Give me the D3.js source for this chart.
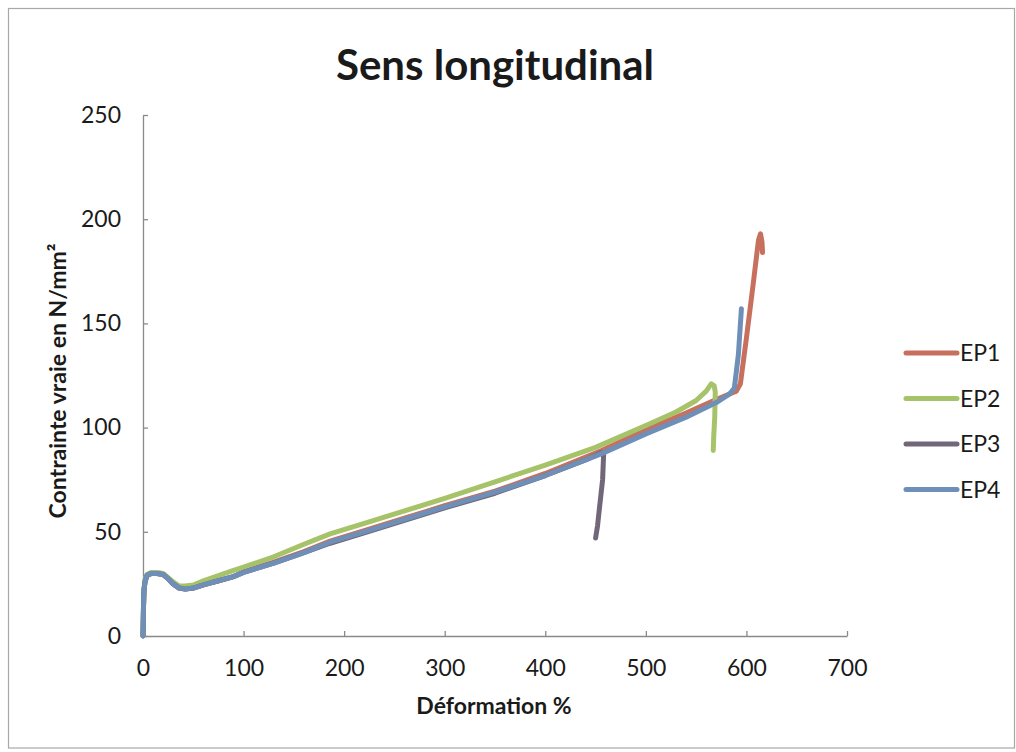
<!DOCTYPE html>
<html>
<head>
<meta charset="utf-8">
<script src="https://cdn.jsdelivr.net/npm/d3@7"></script>
<style>
  html, body { margin: 0; padding: 0; background: #fff; }
  svg { display: block; }
  text { font-family: Lato, "Open Sans", "DejaVu Sans", sans-serif; fill: #1a1a1a; }
</style>
</head>
<body>
<svg id="chart" width="1016" height="752"></svg>
<script>
// Tensile test curves: true stress versus strain, longitudinal direction
const title = "Sens longitudinal";
const xTitle = "Déformation %";
const yTitle = "Contrainte vraie en N/mm²";
const seriesNames = ["EP1", "EP2", "EP3", "EP4"];
const seriesColors = ["#c8705e", "#a6c36a", "#716779", "#6e8fb8"];
const xTicks = [0, 100, 200, 300, 400, 500, 600, 700];
const yTicks = [0, 50, 100, 150, 200, 250];

// EP1
const ep1Strain = [0, 0.5, 1, 2, 4, 8, 14, 20, 25, 30, 36, 42, 50, 60, 75, 90, 100, 130, 160, 186, 220, 260, 300, 350, 400, 456, 500, 540, 570, 590, 594, 600, 607, 612, 614, 615.5, 616];
const ep1Stress = [0, 14, 22, 26, 29, 30, 30, 29.5, 27.5, 25, 23, 22.5, 23, 24.5, 26.5, 28.5, 31, 35.5, 40.5, 45.5, 50.5, 56.5, 62.5, 69.5, 78, 89, 99, 107, 113.5, 117.5, 121, 143, 170, 190, 193, 189, 184];
// EP2
const ep2Strain = [0, 0.5, 1, 2, 4, 8, 14, 20, 25, 30, 36, 42, 50, 60, 75, 90, 100, 130, 160, 186, 220, 260, 300, 350, 400, 450, 500, 530, 550, 560, 565, 568, 569, 568.5, 567.5, 567];
const ep2Stress = [0, 15, 23, 27, 29.5, 30.5, 30.5, 30, 28, 26, 24, 24, 24.5, 26.5, 29, 31.5, 33, 38, 44, 49, 54, 60, 66, 74, 82, 90.5, 101, 107.5, 113, 117.5, 121, 120, 117, 105, 96, 89];
// EP3
const ep3Strain = [0, 0.5, 1, 2, 4, 8, 14, 20, 25, 30, 36, 42, 50, 60, 75, 90, 100, 130, 160, 186, 220, 260, 300, 350, 400, 440, 456, 458, 457, 454, 452, 450];
const ep3Stress = [0, 14, 22, 26, 29, 30, 30, 29.5, 27.5, 25, 23, 22.5, 23, 24.5, 26.5, 28.5, 30.5, 35, 40, 44.5, 49.5, 55.5, 61.5, 68.5, 77, 84.5, 88, 87, 75, 62, 53, 47];
// EP4
const ep4Strain = [0, 0.5, 1, 2, 4, 8, 14, 20, 25, 30, 36, 42, 50, 60, 75, 90, 100, 130, 160, 186, 220, 260, 300, 350, 400, 456, 500, 540, 570, 583, 588, 592, 595];
const ep4Stress = [0, 14, 22, 26, 29, 30, 30, 29.5, 27.5, 25, 23, 22.5, 23, 24.5, 26.5, 28.5, 30.5, 35, 40, 45, 50, 56, 62, 69, 77, 87.5, 97, 105, 112, 116, 119, 135, 157];

const seriesStrain = [ep1Strain, ep2Strain, ep3Strain, ep4Strain];
const seriesStress = [ep1Stress, ep2Stress, ep3Stress, ep4Stress];

const svg = d3.select("#chart");

// outer chart frame
svg.append("rect")
  .attr("x", 8.5).attr("y", 8.5)
  .attr("width", 1006).attr("height", 739.5)
  .attr("fill", "none").attr("stroke", "#a8a8a8").attr("stroke-width", 1.2);

const plot = { left: 143, right: 847, top: 115, bottom: 636 };

const x = d3.scaleLinear().domain([0, 700]).range([plot.left, plot.right]);
const y = d3.scaleLinear().domain([0, 250]).range([plot.bottom, plot.top]);

// title
svg.append("text")
  .attr("x", 495).attr("y", 80)
  .attr("text-anchor", "middle")
  .attr("font-size", 42).attr("font-weight", 700)
  .text(title);

// axes with inner ticks
const xAxis = svg.append("g")
  .attr("transform", `translate(0,${plot.bottom})`)
  .call(d3.axisBottom(x).tickValues(xTicks).tickSize(-5).tickPadding(24).tickSizeOuter(0));
const yAxis = svg.append("g")
  .attr("transform", `translate(${plot.left},0)`)
  .call(d3.axisLeft(y).tickValues(yTicks).tickSize(-5).tickPadding(22).tickSizeOuter(0));

[xAxis, yAxis].forEach(g => {
  g.select(".domain").attr("stroke", "#8a8a8a").attr("stroke-width", 1.3);
  g.selectAll(".tick line").attr("stroke", "#8a8a8a").attr("stroke-width", 1.3);
  g.selectAll(".tick text")
    .attr("font-size", 23)
    .attr("font-family", "Lato, 'Open Sans', sans-serif")
    .attr("fill", "#1a1a1a");
});
xAxis.selectAll(".tick text").attr("dy", "0.71em");

// axis titles
svg.append("text")
  .attr("x", 494).attr("y", 714)
  .attr("text-anchor", "middle")
  .attr("font-size", 23).attr("font-weight", 700)
  .text(xTitle);

svg.append("text")
  .attr("transform", "translate(66,381) rotate(-90)")
  .attr("text-anchor", "middle")
  .attr("font-size", 23).attr("font-weight", 700)
  .text(yTitle);

// curves
const line = d3.line()
  .x(d => x(d[0]))
  .y(d => y(d[1]))
  .curve(d3.curveLinear);

seriesNames.forEach((name, i) => {
  const pts = seriesStrain[i].map((v, k) => [v, seriesStress[i][k]]);
  svg.append("path")
    .datum(pts)
    .attr("d", line)
    .attr("fill", "none")
    .attr("stroke", seriesColors[i])
    .attr("stroke-width", 5)
    .attr("stroke-linejoin", "round")
    .attr("stroke-linecap", "round");
});

// legend
const legend = svg.append("g");
seriesNames.forEach((name, i) => {
  const ly = 353 + i * 45.5;
  legend.append("line")
    .attr("x1", 906).attr("x2", 957)
    .attr("y1", ly).attr("y2", ly)
    .attr("stroke", seriesColors[i])
    .attr("stroke-width", 5)
    .attr("stroke-linecap", "round");
  legend.append("text")
    .attr("x", 960).attr("y", ly)
    .attr("dy", "0.36em")
    .attr("font-size", 23)
    .text(name);
});
</script>
</body>
</html>
